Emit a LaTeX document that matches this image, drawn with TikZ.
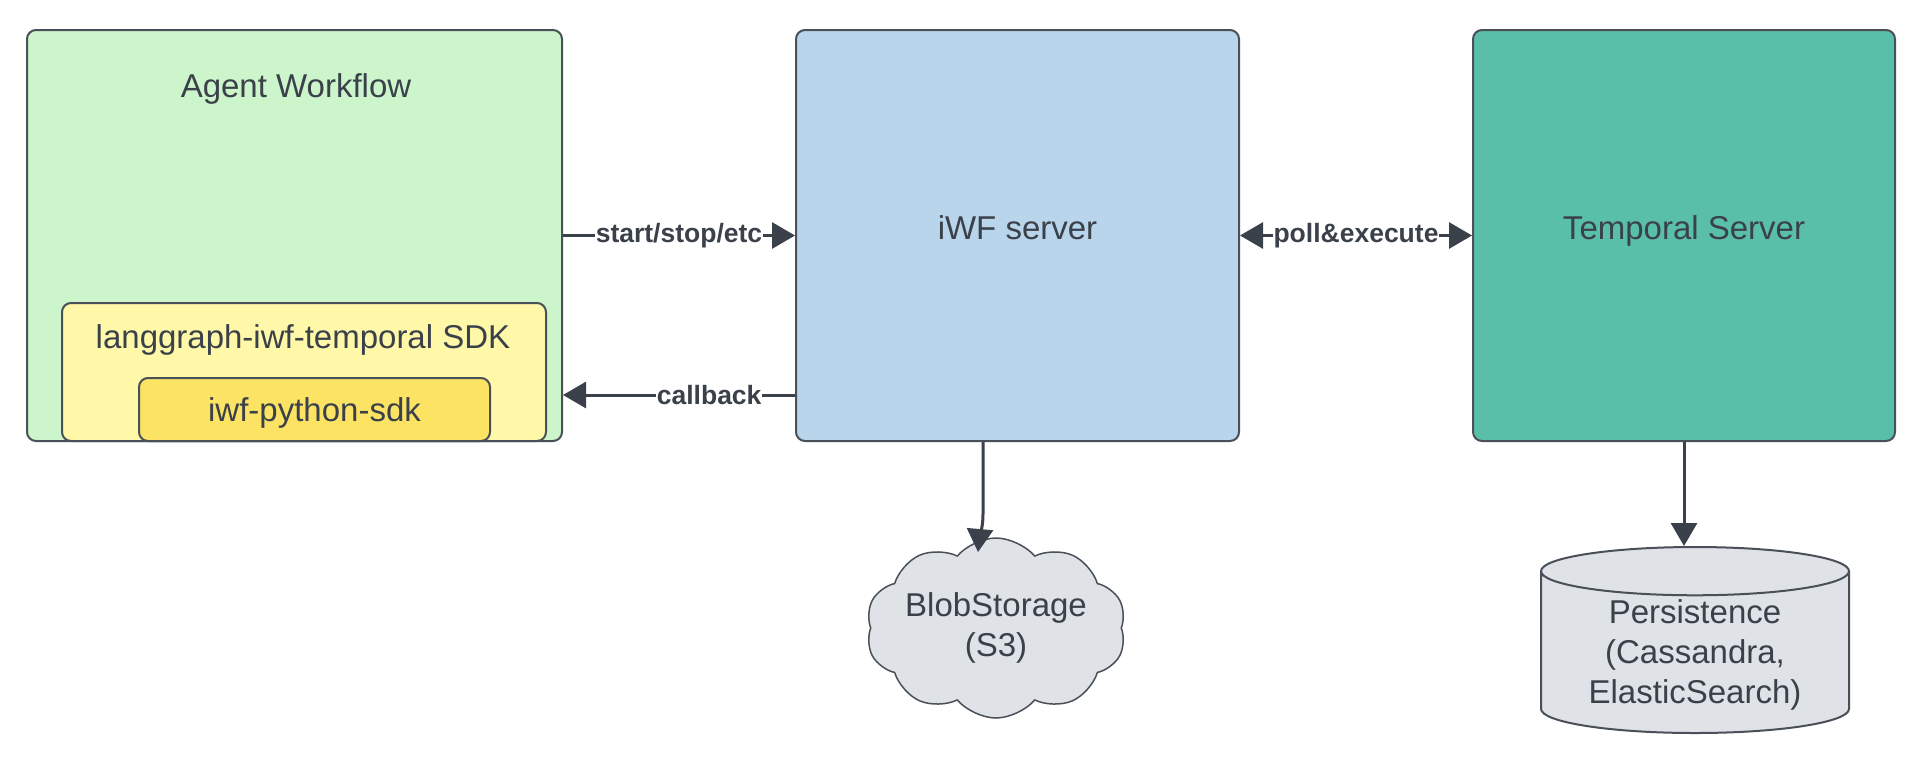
\documentclass[tikz,border=0pt]{standalone}
\usepackage{fontspec}
\setmainfont{Liberation Sans}
\usetikzlibrary{arrows.meta,shapes.symbols,shapes.geometric}
\definecolor{V}{RGB}{204, 245, 204}
\definecolor{Am}{RGB}{254, 248, 168}
\definecolor{Ao}{RGB}{252, 227, 100}
\definecolor{Az}{RGB}{185, 213, 235}
\definecolor{T}{RGB}{90, 191, 169}
\definecolor{Gr}{RGB}{223, 226, 231}
\definecolor{Bd}{RGB}{74, 80, 88}
\definecolor{Tx}{RGB}{58, 65, 74}

\tikzset{
	caja/.style={draw=Bd, line width=2pt, rounded corners=9pt, text=Tx, font=\fontsize{33}{40}\selectfont, align=center},
	texto/.style={text=Tx, font=\fontsize{33}{40}\selectfont},
	flecha/.style={draw=Tx, line width=3pt, -{Triangle[length=23pt,width=26pt]}},
	etiq/.style={fill=white, inner sep=1pt, text=Tx, font=\fontsize{26.5}{30}\selectfont\bfseries}
}

\begin{document}
\begin{tikzpicture}[x=1pt, y=-1pt]
	\path[fill=white, use as bounding box] (0,0) rectangle (1932,780);

	%Cliente con el SDK dentro
	\node[caja, fill=V, minimum width=535pt, minimum height=411pt] (agent) at (294.5,235.5) {};
	\node[texto] (agentlbl) at (296,88.5) {Agent Workflow};
	\node[caja, fill=Am, minimum width=484pt, minimum height=138pt] (sdk) at (304,372) {};
	\node[texto] (sdklbl) at (303,340) {langgraph-iwf-temporal SDK};
	\node[caja, fill=Ao, minimum width=351pt, minimum height=63pt, text depth=0pt] (pysdk) at (314.5,409.5) {iwf-python-sdk};

	%Servidores
	\node[caja, fill=Az, minimum width=443pt, minimum height=411pt, text depth=15pt] (iwf) at (1017.5,235.5) {iWF server};
	\node[caja, fill=T, minimum width=422pt, minimum height=411pt, text depth=15pt] (temporal) at (1684,235.5) {Temporal Server};

	%Almacenamiento
	\node[cloud, cloud puffs=10, cloud puff arc=100, cloud ignores aspect, inner xsep=0pt, draw=Bd, line width=1.5pt, fill=Gr, text=Tx,
		font=\fontsize{33}{40}\selectfont, align=center, minimum width=150pt, minimum height=180pt] (blob) at (996,628) {BlobStorage\\(S3)};
	\node[cylinder, shape border rotate=90, aspect=0.22, anchor=shape center, draw=Bd, line width=2pt, fill=Gr, text=Tx,
		font=\fontsize{33}{40}\selectfont, align=center, minimum width=308pt, minimum height=186pt] (persist) at (1695,640) {Persistence\\(Cassandra,\\ElasticSearch)};
	\coordinate (blobin) at (978,552);

	%Conexiones
	\draw[flecha] (agent.east) -- node[etiq] {start/stop/etc} (iwf.west);
	\draw[flecha] ([yshift=-159.5pt]iwf.west) -- node[etiq, pos=0.37] {callback} ([yshift=-159.5pt]agent.east);
	\draw[flecha, {Triangle[length=23pt,width=26pt]}-{Triangle[length=23pt,width=26pt]}] (iwf.east) -- node[etiq] {poll\&execute} (temporal.west);
	\draw[flecha] ([xshift=-34.5pt]iwf.south) -- ++(0,72) to[out=-90, in=85] (blobin);
	\draw[flecha] (temporal.south) -- (temporal.south |- persist.north);
\end{tikzpicture}
\end{document}
